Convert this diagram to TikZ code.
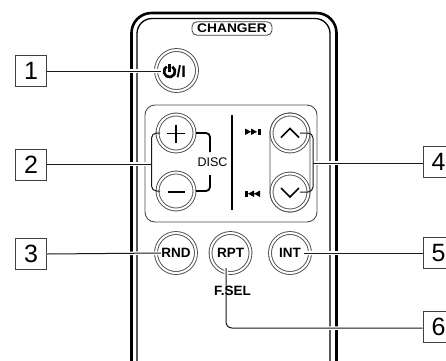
\documentclass[tikz,border=0pt]{standalone}
\usepackage{fontspec}
\setmainfont{Liberation Sans}
\begin{document}
\begin{tikzpicture}[x=1pt,y=-1pt,
  bodyout/.style={line width=2.6, black, rounded corners=20},
  bodyin/.style={line width=1.3, black, rounded corners=15},
  ldr/.style={draw=black!90, line width=1, preaction={draw=white, line width=3.5}},
  lbl/.style={draw=black!75, line width=0.9, minimum width=31, minimum height=31, inner sep=0, font=\fontsize{25}{25}\selectfont},
  btn/.style={circle, draw=black!70, double=white, double distance=2, line width=0.9, inner sep=0, minimum size=#1},
  btxt/.style={font=\bfseries\fontsize{13.5}{13.5}\selectfont, inner sep=0},
  sym/.style={line width=1.7, black},
  thin/.style={draw=black!70, line width=0.9}
]
\useasboundingbox (0,0) rectangle (446,360);
\clip (0,0) rectangle (446,360);
% remote body
\draw[bodyout] (131.5,370) -- (131.5,13) -- (336.5,13) -- (336.5,370);
\draw[bodyin] (137,370) -- (137,18.5) -- (330,18.5) -- (330,370);
% CHANGER label
\node[draw=black!75, line width=0.8, rounded corners=5, minimum width=80, minimum height=13.5, inner sep=0,
  font=\bfseries\fontsize{12.5}{12.5}\selectfont\addfontfeature{FakeStretch=1.1}] (chg) at (232,28.5) {CHANGER};
% panel
\draw[thin, rounded corners=10] (145,105) rectangle (317,222);
\draw[thin, rounded corners=20] (270,113) rectangle (310,212);
% buttons
\node[btn=41] (pw) at (176.5,70.5) {};
\node[btn=37] (plus) at (176,133) {};
\node[btn=37] (minus) at (176,191) {};
\node[btn=37] (up) at (290,133) {};
\node[btn=37] (down) at (290,192) {};
\node[btn=40] (rnd) at (176,253) {};
\node[btn=40] (rpt) at (230.5,253) {};
\node[btn=40] (int) at (290,253) {};
% labels
\node[lbl] (b1) at (31,71) {1};
\node[lbl] (b2) at (31,164.5) {2};
\node[lbl] (b3) at (31,254) {3};
\node[lbl] (b4) at (438.5,162) {4};
\node[lbl] (b5) at (438.5,253) {5};
\node[lbl] (b6) at (438.5,327) {6};
% button symbols
\draw[line width=2.6] (169.5,71.5) ++(-60:5.6) arc[start angle=-60, end angle=240, radius=5.6];
\draw[line width=2.6] (169.5,63.5) -- (169.5,71.5);
\node[font=\bfseries\fontsize{16.5}{16.5}\selectfont, inner sep=0, anchor=west] (pwt) at (176.5,71.5) {/I};
\draw[sym] (167,133.5) -- (185,133.5) (176,124.5) -- (176,142.5);
\draw[sym] (167.5,192) -- (184.5,192);
\draw[sym] (281,137.5) -- (290,128.5) -- (299,137.5);
\draw[sym] (281,188) -- (290,197) -- (299,188);
\fill (245,128.5) -- (245,135) -- (251,131.75) -- cycle (251,128.5) -- (251,135) -- (257,131.75) -- cycle;
\fill (258,128.5) rectangle (260.5,135);
\fill (245,190.5) rectangle (247.5,197);
\fill (254,190.5) -- (254,197) -- (248,193.75) -- cycle (260,190.5) -- (260,197) -- (254,193.75) -- cycle;
\draw[line width=1.6] (232,115) -- (232,210);
% texts in buttons
\node[btxt] (rndt) at (rnd) {RND};
\node[btxt] (rptt) at (rpt) {RPT};
\node[btxt] (intt) at (int) {INT};
% coordinates for leaders
\coordinate (pl) at (160,133);
\coordinate (ml) at (160,191);
\coordinate (ur) at (300,133);
\coordinate (dr) at (300,192);
\coordinate (br2) at (151.5,164);
\coordinate (br4) at (313,163);
% leaders
\draw[ldr] (b1.east) -- (161,71);
\draw[ldr] (b2.east |- br2) -- (br2);
\draw[ldr] (b3.east) -- (rndt.west);
\draw[ldr] (b4.west |- br4) -- (br4);
\draw[ldr] (b5.west) -- ([xshift=3]intt.east);
\draw[ldr, rounded corners=6] (226,268) -- (226,328) -- (b6.west |- 0,328);
% brackets
\draw[draw=black!90, line width=1, rounded corners=5] (pl) -- (151.5,133) -- (151.5,191) -- (ml);
\draw[draw=black!90, line width=1, rounded corners=5] (ur) -- (313,133) -- (313,192) -- (dr);
\draw[line width=1.8, rounded corners=4] (196,133) -- (210,133) -- (210,152);
\draw[line width=1.8, rounded corners=4] (210,175) -- (210,191) -- (196,191);
\node[font=\fontsize{12.5}{12.5}\selectfont, inner sep=0] (disc) at (212.5,162.5) {DISC};
\node[btxt] (fsel) at (232.5,290.5) {F.SEL};
\end{tikzpicture}
\end{document}
